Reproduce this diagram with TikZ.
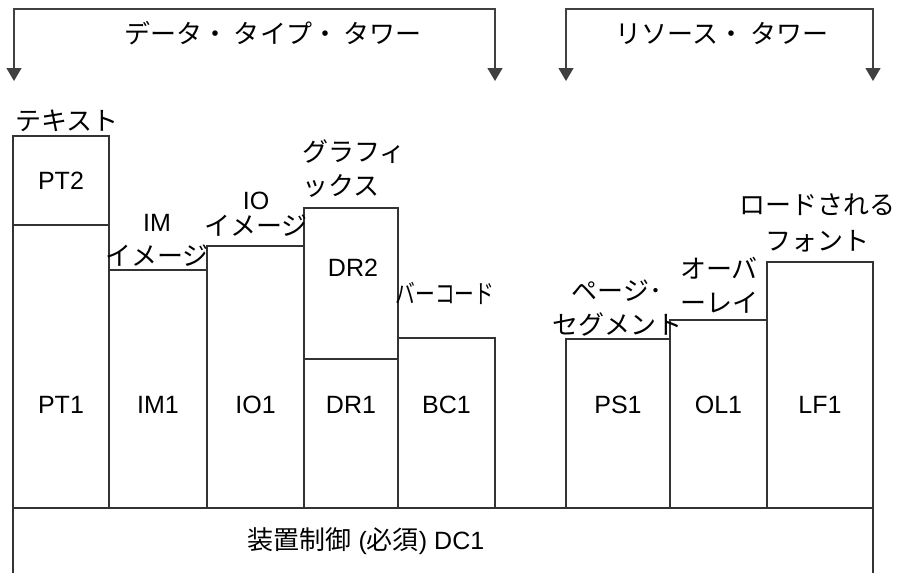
\documentclass[tikz,border=0pt]{standalone}
\usepackage{fontspec}
\setmainfont{Liberation Sans}
\newfontfamily\jp[Scale=1.04]{Noto Sans CJK JP}
\usetikzlibrary{positioning,arrows.meta}
\begin{document}
\begin{tikzpicture}[x=1pt,y=-1pt,inner sep=0pt,outer sep=0pt,line width=1.2pt,
font=\fontsize{25}{34}\selectfont,
tower/.style={draw=black!80,rectangle,anchor=south west},
frame/.style={draw=black!80},
towerarrow/.style={draw=black!75,{Triangle[width=15pt,length=13pt]}-{Triangle[width=15pt,length=13pt]}}]
\useasboundingbox (0,0) rectangle (898,573);
\draw (13,508) node[tower,minimum width=96,minimum height=283] (pt1) {};
\node[tower,minimum width=96,minimum height=89,above=0pt of pt1] (pt2) {};
\draw (pt1.south east) node[tower,minimum width=98,minimum height=238] (im1) {};
\draw (im1.south east) node[tower,minimum width=97,minimum height=262] (io1) {};
\draw (io1.south east) node[tower,minimum width=94,minimum height=149] (dr1) {};
\node[tower,minimum width=94,minimum height=151,above=0pt of dr1] (dr2) {};
\draw (dr1.south east) node[tower,minimum width=97,minimum height=170] (bc1) {};
\draw (566,508) node[tower,minimum width=104,minimum height=169] (ps1) {};
\draw (ps1.south east) node[tower,minimum width=97,minimum height=188] (ol1) {};
\draw (ol1.south east) node[tower,minimum width=106,minimum height=246] (lf1) {};
\coordinate (bottom) at (0,573);
\coordinate (row) at (0,405);
\draw[frame] (pt1.south west |- bottom) -- (pt1.south west) -- (lf1.south east) -- (lf1.south east |- bottom);
\draw (366,541) node (dc1) {{\jp 装置制御} ({\jp 必須}) DC1};
\draw (pt2.center) node (pt2txt) {PT2};
\draw (pt1.center |- row) node (pt1txt) {PT1};
\draw (im1.center |- row) node (im1txt) {IM1};
\draw (io1.center |- row) node (io1txt) {IO1};
\draw (dr1.center |- row) node (dr1txt) {DR1};
\draw (bc1.center |- row) node (bc1txt) {BC1};
\draw (ps1.center |- row) node (ps1txt) {PS1};
\draw (ol1.center |- row) node (ol1txt) {OL1};
\draw (lf1.center |- row) node (lf1txt) {LF1};
\draw (353,268) node (dr2txt) {DR2};
\draw (67,121) node (ptlbl) {\jp テキスト};
\draw (157,240) node[align=center] (imlbl) {IM\\{\jp イメージ}};
\draw (256,214) node[align=center] (iolbl) {IO\\[-8pt]{\jp イメージ}};
\draw (302,169) node[align=left,anchor=west] (drlbl) {\jp グラフィ\\\jp ックス};
\draw (445,293) node (bclbl) {\scalebox{0.76}[1]{\jp バーコード}};
\draw (617,308) node[align=center] (pslbl) {\jp ページ･\\\jp セグメント};
\draw (680,285) node[align=left,anchor=west] (ollbl) {\jp オーバ\\\jp ーレイ};
\draw (817,223) node[align=center] (lflbl) {\jp ロードされる\\[2pt]\jp フォント};
\coordinate (dtl) at (14,81);
\coordinate (dtr) at (495,81);
\coordinate (rtl) at (566,81);
\coordinate (rtr) at (873,81);
\draw (273,33) node (dtlbl) {\jp データ・ タイプ・ タワー};
\draw (722,33) node (rtlbl) {\jp リソース・ タワー};
\draw[towerarrow] (dtl) |- (dtlbl |- 0,9) -| (dtr);
\draw[towerarrow] (rtl) |- (rtlbl |- 0,9) -| (rtr);
\end{tikzpicture}
\end{document}
